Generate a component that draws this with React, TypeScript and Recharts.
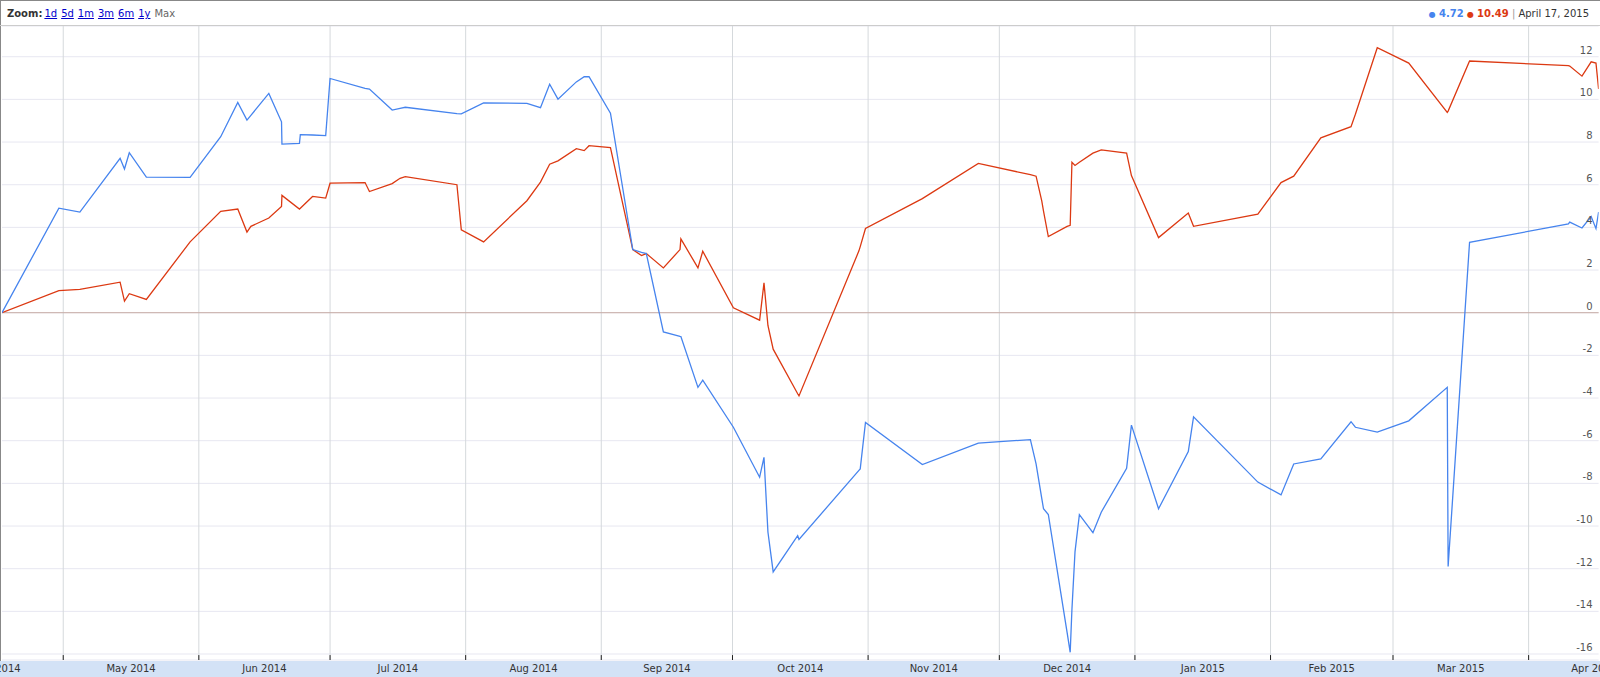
import { LineChart, Line, XAxis, YAxis, CartesianGrid, ReferenceLine } from 'recharts';

// days since 2014-04-17 (trading points, with a few same-day jumps)
const days = [
  0, 13, 17.8, 27, 28, 29.1, 33, 43, 50, 53.9, 56, 56.9, 61, 63.9, 64, 68, 68.2, 71, 74, 75,
  83, 84, 89.2, 91, 92.2, 104, 105, 110.1, 120, 123.1, 125.2, 127.1, 131.3, 133.1, 134.2, 139.1,
  144.2, 146.2, 147.3, 151.2, 155, 155.2, 159.1, 160.2, 167.2, 173.2, 174.2, 175.1, 176.3, 181.9,
  182.2, 195.9, 196.2, 197.4, 210.4, 223.2, 235.1, 236.4, 237.7, 238.1, 239.2, 243.5, 244.2, 244.6,
  245.3, 246.3, 249.4, 251.3, 257.1, 258.2, 264.4, 271.2, 272.4, 287.1, 292.4, 295.3, 301.5, 308.4,
  309.4, 314.4, 321.6, 330.4, 330.6, 335.5, 358.1, 358.4, 361.2, 363.3, 364.4, 365,
];

const blueSeries = [
  0, 4.9, 4.72, 7.24, 6.74, 7.5, 6.36, 6.34, 8.25, 9.86, 9.03, 9.25, 10.28, 8.95, 7.9, 7.94, 8.35, 8.33, 8.3, 10.98,
  10.52, 10.48, 9.5, 9.58, 9.63, 9.33, 9.32, 9.84, 9.81, 9.61, 10.71, 10.01, 10.82, 11.06, 11.06, 9.35,
  2.96, 2.83, 2.77, -0.9, -1.11, -1.12, -3.5, -3.16, -5.37, -7.71, -6.78, -10.28, -12.15, -10.45,
  -10.63, -7.39, -7.32, -5.14, -7.12, -6.11, -5.95, -7.09, -8.7, -9.19, -9.46, -15.0, -15.92, -13.9,
  -11.21, -9.47, -10.31, -9.35, -7.29, -5.27, -9.19, -6.51, -4.88, -7.94, -8.54, -7.09, -6.85, -5.11,
  -5.37, -5.6, -5.07, -3.5, -11.9, 3.3, 4.16, 4.25, 3.97, 4.51, 3.94, 4.72,
];

const redSeries = [
  0, 1.04, 1.09, 1.43, 0.54, 0.89, 0.62, 3.32, 4.75, 4.86, 3.78, 4.05, 4.44, 4.98, 5.5, 4.86, 4.9, 5.45, 5.37, 6.07,
  6.1, 5.68, 6.05, 6.3, 6.38, 6.0, 3.89, 3.32, 5.25, 6.12, 6.96, 7.12, 7.69, 7.6, 7.83, 7.74,
  2.96, 2.68, 2.77, 2.1, 2.96, 3.46, 2.1, 2.88, 0.23, -0.35, 1.4, -0.6, -1.71, -3.8,
  -3.9, 2.9, 3.1, 3.95, 5.35, 7.0, 6.47, 6.4, 5.24, 4.76, 3.57, 4.05, 4.1, 7.05,
  6.9, 7.05, 7.48, 7.63, 7.48, 6.43, 3.52, 4.67, 4.05, 4.62, 6.1, 6.4, 8.2, 8.72,
  9.3, 12.42, 11.7, 9.39, 9.45, 11.8, 11.58, 11.56, 11.09, 11.76, 11.7, 10.49,
];

const monthStarts = [14, 45, 75, 106, 137, 167, 198, 228, 259, 290, 318, 349];
const monthMids = [-1, 29.5, 60, 90.5, 121.5, 152, 182.5, 213, 243.5, 274.5, 304, 333.5, 364];
const monthLabels = [
  'Apr 2014', 'May 2014', 'Jun 2014', 'Jul 2014', 'Aug 2014', 'Sep 2014', 'Oct 2014',
  'Nov 2014', 'Dec 2014', 'Jan 2015', 'Feb 2015', 'Mar 2015', 'Apr 2015',
];
const yTicks = [-16, -14, -12, -10, -8, -6, -4, -2, 0, 2, 4, 6, 8, 10, 12];
const zoomLinks = ['1d', '5d', '1m', '3m', '6m', '1y'];

const BLUE = '#4684ee';
const RED = '#dc3912';
const FONT = '"DejaVu Sans", Verdana, sans-serif';
const Y_MIN = -16.28;
const Y_MAX = 13.44;

const chartData = days.map((d, i) => ({ day: d, blue: blueSeries[i], red: redSeries[i] }));

function MonthTick({ x, y, payload }: any) {
  const idx = monthMids.indexOf(payload.value);
  return (
    <text x={x} y={y + 12} textAnchor="middle" fontSize={10} fill="#333" fontFamily={FONT}>
      {monthLabels[idx]}
    </text>
  );
}

function ValueTick({ x, y, payload }: any) {
  return (
    <text x={x} y={y - 3} textAnchor="end" fontSize={10} fill="#555" fontFamily={FONT}>
      {payload.value}
    </text>
  );
}

export default function App() {
  return (
    <div style={{ position: 'absolute', left: 0, top: 0, width: 1600, height: 677, background: '#fff', fontFamily: FONT, overflow: 'hidden' }}>
      {/* toolbar */}
      <div style={{ position: 'absolute', left: 7, top: 8, fontSize: 10, color: '#333', whiteSpace: 'nowrap' }}>
        <b style={{ marginRight: 2 }}>Zoom:</b>
        {zoomLinks.map((z) => (
          <span key={z} style={{ color: '#00c', textDecoration: 'underline', marginRight: 4 }}>{z}</span>
        ))}
        <span style={{ color: '#666' }}>Max</span>
      </div>
      <div style={{ position: 'absolute', right: 11, top: 8, fontSize: 10, color: '#333', whiteSpace: 'nowrap' }}>
        <span style={{ color: BLUE, fontSize: 8 }}>●</span>{' '}
        <b style={{ color: BLUE }}>4.72</b>{' '}
        <span style={{ color: RED, fontSize: 8 }}>●</span>{' '}
        <b style={{ color: RED }}>10.49</b>{' '}
        <span style={{ color: '#999' }}>|</span> April 17, 2015
      </div>

      {/* frame */}
      <div style={{ position: 'absolute', left: 0, top: 0, width: 1600, height: 1, background: '#888' }} />
      <div style={{ position: 'absolute', left: 0, top: 0, width: 1, height: 677, background: '#888' }} />
      <div style={{ position: 'absolute', left: 0, top: 25, width: 1600, height: 1, background: '#ccc' }} />
      <div style={{ position: 'absolute', left: 0, top: 661, width: 1600, height: 16, background: '#d3e2f6' }} />

      <div style={{ position: 'absolute', left: 0, top: 26 }}>
        <LineChart width={1600} height={651} data={chartData} margin={{ top: 0, right: 1.4, left: 2, bottom: 0 }}>
          <CartesianGrid vertical={false} stroke="#e7e7f1" />
          {monthStarts.map((m) => (
            <ReferenceLine key={'g' + m} x={m} stroke="#d5d9dc" />
          ))}
          {monthStarts.map((m) => (
            <ReferenceLine key={'t' + m} segment={[{ x: m, y: Y_MIN }, { x: m, y: Y_MIN + 0.23 }]} stroke="#222" />
          ))}
          <ReferenceLine y={0} stroke="#c8ada5" />
          <XAxis
            dataKey="day"
            type="number"
            domain={[0, 365]}
            ticks={monthMids}
            interval={0}
            allowDataOverflow
            tickLine={false}
            axisLine={false}
            tickSize={0}
            tickMargin={0}
            height={17}
            tick={<MonthTick />}
          />
          <YAxis
            type="number"
            orientation="right"
            mirror
            width={40}
            domain={[Y_MIN, Y_MAX]}
            ticks={yTicks}
            interval={0}
            allowDataOverflow
            tickLine={false}
            axisLine={false}
            tickSize={0}
            tickMargin={6}
            tick={<ValueTick />}
          />
          <Line type="linear" dataKey="red" stroke={RED} strokeWidth={1.3} dot={false} isAnimationActive={false} />
          <Line type="linear" dataKey="blue" stroke={BLUE} strokeWidth={1.3} dot={false} isAnimationActive={false} />
        </LineChart>
      </div>
    </div>
  );
}
